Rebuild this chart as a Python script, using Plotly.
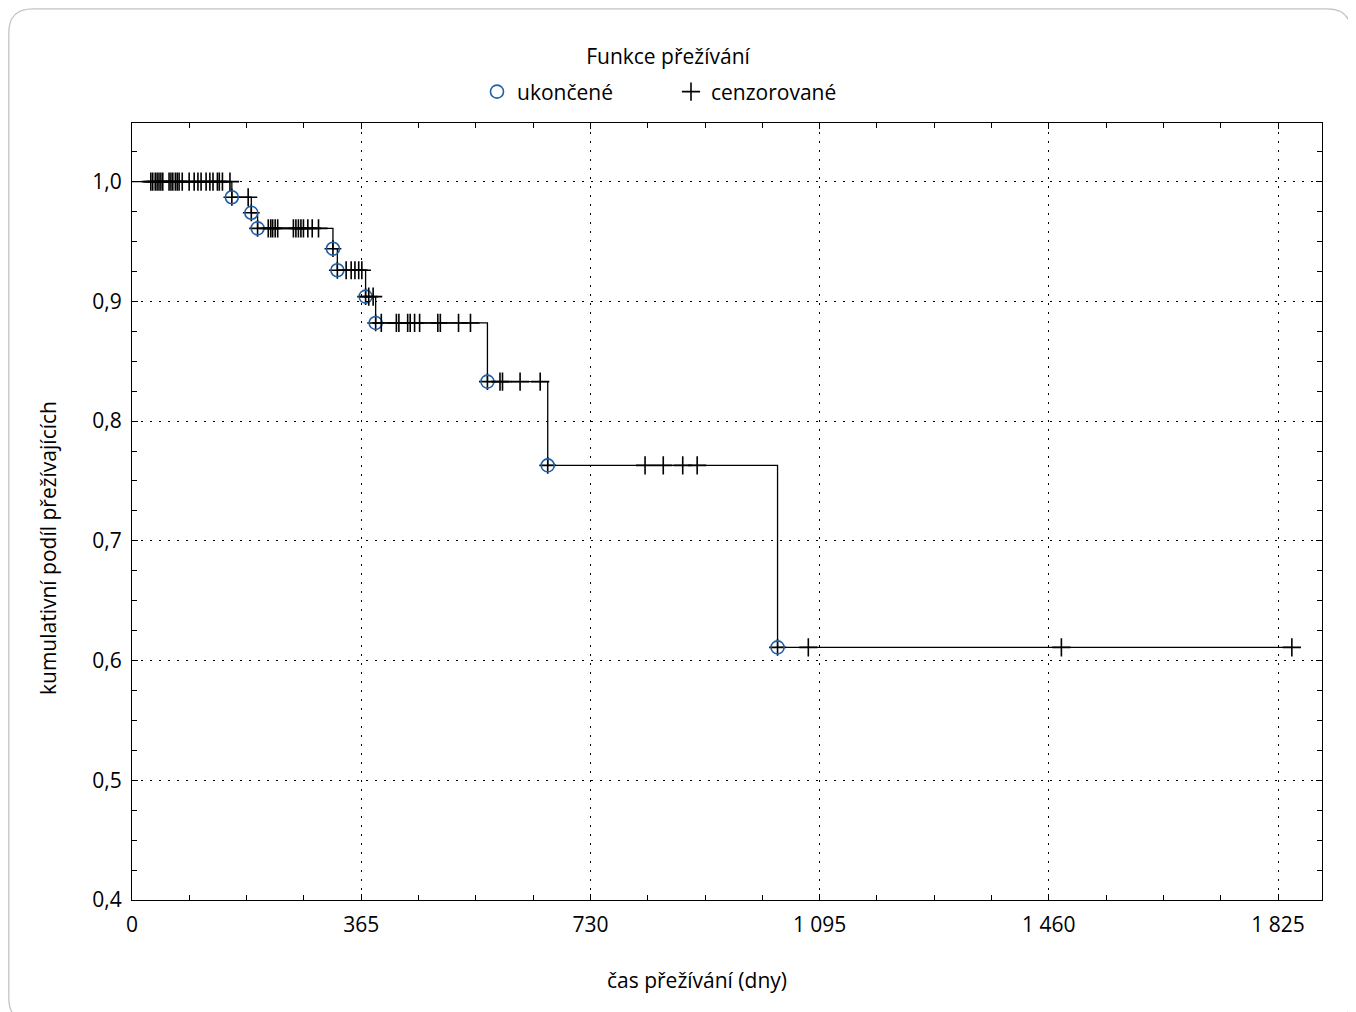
import plotly.graph_objects as go

# ---- data ----
event_days = [159, 190, 200, 320, 327, 372, 388, 566, 662, 1028]
event_surv = [0.987, 0.974, 0.961, 0.944, 0.926, 0.904, 0.882, 0.833, 0.763, 0.611]

cens_days = [30, 33, 37, 40, 43, 46, 49, 59, 62, 65, 69, 72, 75, 80, 91, 99, 105, 110,
             118, 124, 129, 136, 139, 144, 156,
             185,
             217, 221, 224, 228, 232, 257, 261, 265, 269, 273, 280, 287, 297,
             341, 349, 355, 361, 366,
             377, 384,
             397, 421, 425, 439, 443, 450, 458, 487, 491, 520, 539,
             586, 590, 618, 650,
             817, 846, 877, 900,
             1077, 1480, 1847]

x_tickvals = [0, 365, 730, 1095, 1460, 1825]
x_ticktext = ["0", "365", "730", "1 095", "1 460", "1 825"]
y_tickvals = [0.4, 0.5, 0.6, 0.7, 0.8, 0.9, 1.0]
y_ticktext = ["0,4", "0,5", "0,6", "0,7", "0,8", "0,9", "1,0"]

title_text = "Funkce přežívání"
legend_events = "ukončené"
legend_cens = "cenzorované"
x_title = "čas přežívání (dny)"
y_title = "kumulativní podíl přežívajících"


def surv_at(d):
    s = 1.0
    for ed, es in zip(event_days, event_surv):
        if ed <= d:
            s = es
    return s


cens_surv = [surv_at(d) for d in cens_days]
last_day = max(cens_days + event_days)
step_x = [0] + event_days + [last_day]
step_y = [1.0] + event_surv + [surv_at(last_day)]

FONT = "Open Sans"
BLUE = "#1f5fa6"

fig = go.Figure()
fig.add_trace(go.Scatter(x=step_x, y=step_y, mode="lines", line=dict(shape="hv", color="black", width=1.3),
                         showlegend=False, hoverinfo="skip"))
fig.add_trace(go.Scatter(x=event_days, y=event_surv, mode="markers",
                         marker=dict(symbol="cross-thin", size=12, line=dict(color="black", width=1.6)),
                         showlegend=False, hoverinfo="skip"))
fig.add_trace(go.Scatter(x=event_days, y=event_surv, mode="markers", name=legend_events,
                         marker=dict(symbol="circle-open", size=13, color=BLUE, line=dict(color=BLUE, width=1.6))))
fig.add_trace(go.Scatter(x=cens_days, y=cens_surv, mode="markers", name=legend_cens,
                         marker=dict(symbol="cross-thin", size=13, color="black", line=dict(color="black", width=1.6))))

# page offset (body margin) and plot area in screenshot pixels
OFF = 8
L, R, T, B = 132, 1322, 123, 900
W, H = 1356 - OFF, 1012 - OFF


def px(xp, yp):
    return (xp - L) / (R - L), (B - yp) / (B - T)


def rounded_path(x0, y0, x1, y1, r):
    def P(a, b):
        u, v = px(a, b)
        return f"{u:.5f},{v:.5f}"
    s = f"M {P(x0 + r, y0)} L {P(x1 - r, y0)} Q {P(x1, y0)} {P(x1, y0 + r)} "
    s += f"L {P(x1, y1 - r)} Q {P(x1, y1)} {P(x1 - r, y1)} L {P(x0 + r, y1)} "
    s += f"Q {P(x0, y1)} {P(x0, y1 - r)} L {P(x0, y0 + r)} Q {P(x0, y0)} {P(x0 + r, y0)} Z"
    return s


fig.add_shape(type="path", xref="paper", yref="paper", path=rounded_path(8.8, 8.8, 1351.2, 1022, 24),
              line=dict(color="#c4c4c4", width=1.3), layer="below")

ax_common = dict(showline=True, linecolor="black", linewidth=1.3, mirror="allticks", ticks="inside",
                 ticklen=6, tickcolor="black", zeroline=False, showgrid=True, gridcolor="black",
                 gridwidth=1, griddash="2px,7px", tickfont=dict(family=FONT, size=21, color="black"))

fig.update_xaxes(range=[0, 1895], tickmode="array", tickvals=x_tickvals, ticktext=x_ticktext,
                 minor=dict(dtick=91.25, tick0=0, ticks="inside", ticklen=5, tickcolor="black", showgrid=False),
                 ticklabelstandoff=6, **ax_common)
fig.update_yaxes(range=[0.4, 1.049], tickmode="array", tickvals=y_tickvals, ticktext=y_ticktext,
                 minor=dict(dtick=0.025, tick0=0.4, ticks="inside", ticklen=5, tickcolor="black", showgrid=False),
                 ticklabelstandoff=5, **ax_common)

fig.update_layout(
    width=W, height=H,
    margin=dict(l=L - OFF, r=W - (R - OFF), t=T - OFF, b=H - (B - OFF), pad=0),
    paper_bgcolor="white", plot_bgcolor="white",
    font=dict(family=FONT, size=21, color="black"),
    title=dict(text=title_text, x=(668 - OFF) / W, xref="container", xanchor="center",
               y=1 - (57 - OFF) / H, yref="container", yanchor="middle",
               font=dict(family=FONT, size=21, color="black")),
    legend=dict(orientation="h", x=px(477, 0)[0], xanchor="left", y=px(0, 92)[1], yanchor="middle",
                entrywidth=149, entrywidthmode="pixels",
                font=dict(family=FONT, size=21, color="black"), bgcolor="rgba(0,0,0,0)"),
    annotations=[
        dict(text=x_title, xref="paper", yref="paper", x=px(697, 0)[0], y=px(0, 980)[1],
             showarrow=False, xanchor="center", yanchor="middle", font=dict(family=FONT, size=21)),
        dict(text=y_title, xref="paper", yref="paper", x=px(48, 0)[0], y=px(0, 548)[1],
             showarrow=False, xanchor="center", yanchor="middle", textangle=-90, font=dict(family=FONT, size=21)),
    ],
)

fig.write_html("out.html")
